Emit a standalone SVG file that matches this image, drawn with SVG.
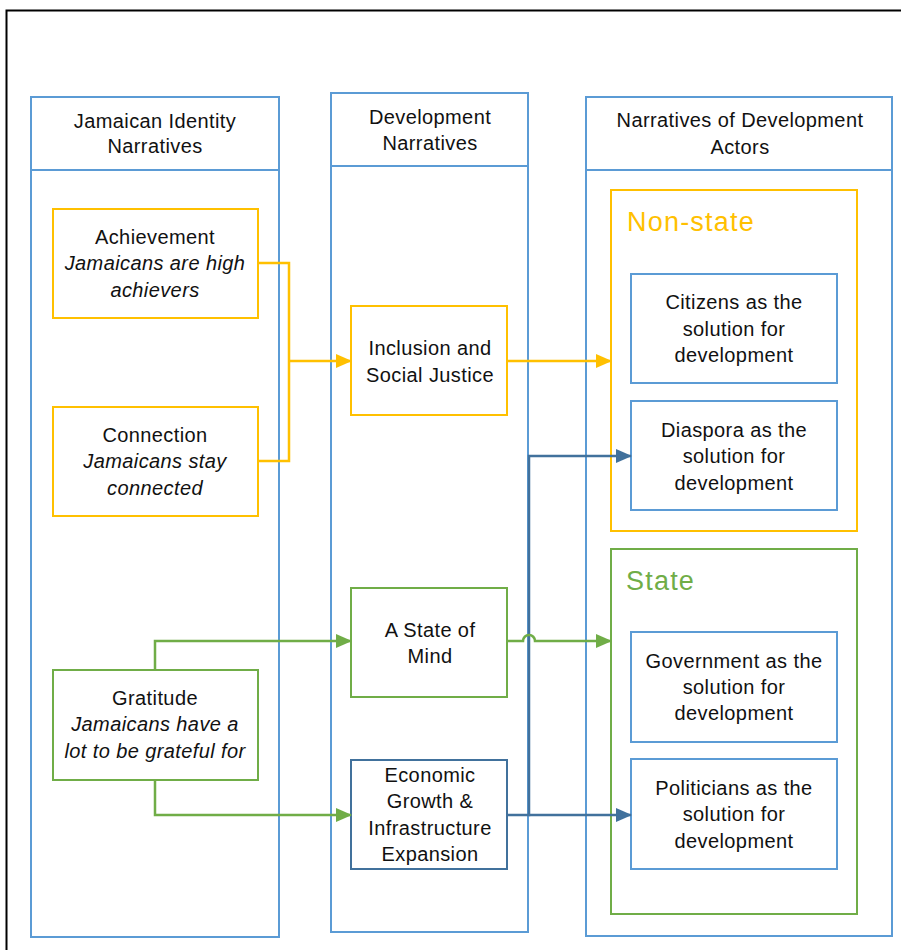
<svg xmlns="http://www.w3.org/2000/svg" width="901" height="950" viewBox="0 0 901 950">
<style>
text{font-family:"Liberation Sans","Open Sans",Arial,sans-serif;font-size:20px;letter-spacing:0.4px;fill:#111;text-anchor:middle}
.it{font-style:italic}
.col{fill:none;stroke:#5B9BD5;stroke-width:2}
.y{fill:none;stroke:#FFC000;stroke-width:2}
.g{fill:none;stroke:#70AD47;stroke-width:2}
.b{fill:none;stroke:#5B9BD5;stroke-width:2}
.db{fill:none;stroke:#41719C;stroke-width:2}
.big{font-size:27px;letter-spacing:1.2px;text-anchor:start}
</style>
<defs>
<marker id="ay" viewBox="0 0 16 14" refX="15" refY="7" markerWidth="16" markerHeight="14" markerUnits="userSpaceOnUse" orient="auto"><path d="M0,0L16,7L0,14z" fill="#FFC000"/></marker>
<marker id="ag" viewBox="0 0 16 14" refX="15" refY="7" markerWidth="16" markerHeight="14" markerUnits="userSpaceOnUse" orient="auto"><path d="M0,0L16,7L0,14z" fill="#70AD47"/></marker>
<marker id="ab" viewBox="0 0 16 14" refX="15" refY="7" markerWidth="16" markerHeight="14" markerUnits="userSpaceOnUse" orient="auto"><path d="M0,0L16,7L0,14z" fill="#41719C"/></marker>
</defs>
<rect width="901" height="950" fill="#fff"/>
<path d="M6.5,950V10.5H901" fill="none" stroke="#000" stroke-width="2"/>

<g id="col-identity">
<rect class="col" x="31" y="97" width="248" height="840"/>
<line class="col" x1="31" y1="170" x2="279" y2="170"/>
<text x="155" y="128">Jamaican Identity</text>
<text x="155" y="153">Narratives</text>
</g>
<g id="col-development">
<rect class="col" x="331" y="93" width="197" height="839"/>
<line class="col" x1="331" y1="166" x2="528" y2="166"/>
<text x="430" y="124">Development</text>
<text x="430" y="150">Narratives</text>
</g>
<g id="col-actors">
<rect class="col" x="586" y="97" width="306" height="839"/>
<line class="col" x1="586" y1="170" x2="892" y2="170"/>
<text x="740" y="127">Narratives of Development</text>
<text x="740" y="154">Actors</text>
</g>

<g id="achievement">
<rect class="y" x="53" y="209" width="205" height="109"/>
<text x="155" y="244">Achievement</text>
<text class="it" x="155" y="270">Jamaicans are high</text>
<text class="it" x="155" y="297">achievers</text>
</g>
<g id="connection">
<rect class="y" x="53" y="407" width="205" height="109"/>
<text x="155" y="442">Connection</text>
<text class="it" x="155" y="468">Jamaicans stay</text>
<text class="it" x="155" y="495">connected</text>
</g>
<g id="gratitude">
<rect class="g" x="53" y="670" width="205" height="110"/>
<text x="155" y="705">Gratitude</text>
<text class="it" x="155" y="731">Jamaicans have a</text>
<text class="it" x="155" y="758">lot to be grateful for</text>
</g>

<g id="inclusion">
<rect class="y" x="351" y="306" width="156" height="109"/>
<text x="430" y="355">Inclusion and</text>
<text x="430" y="382">Social Justice</text>
</g>
<g id="stateofmind">
<rect class="g" x="351" y="588" width="156" height="109"/>
<text x="430" y="637">A State of</text>
<text x="430" y="663">Mind</text>
</g>
<g id="economic">
<rect class="db" x="351" y="760" width="156" height="109"/>
<text x="430" y="782">Economic</text>
<text x="430" y="808">Growth &amp;</text>
<text x="430" y="835">Infrastructure</text>
<text x="430" y="861">Expansion</text>
</g>

<g id="nonstate">
<rect class="y" x="611" y="190" width="246" height="341"/>
<text class="big" x="627" y="231" style="fill:#FFC000">Non-state</text>
</g>
<g id="citizens">
<rect class="b" x="631" y="274" width="206" height="109"/>
<text x="734" y="309">Citizens as the</text>
<text x="734" y="336">solution for</text>
<text x="734" y="362">development</text>
</g>
<g id="diaspora">
<rect class="b" x="631" y="401" width="206" height="109"/>
<text x="734" y="437">Diaspora as the</text>
<text x="734" y="463">solution for</text>
<text x="734" y="490">development</text>
</g>
<g id="state">
<rect class="g" x="611" y="549" width="246" height="365"/>
<text class="big" x="626" y="590" style="fill:#70AD47">State</text>
</g>
<g id="government">
<rect class="b" x="631" y="632" width="206" height="110"/>
<text x="734" y="668">Government as the</text>
<text x="734" y="694">solution for</text>
<text x="734" y="720">development</text>
</g>
<g id="politicians">
<rect class="b" x="631" y="759" width="206" height="110"/>
<text x="734" y="795">Politicians as the</text>
<text x="734" y="821">solution for</text>
<text x="734" y="848">development</text>
</g>

<g id="connectors" fill="none" stroke-width="2.5">
<path d="M258,263H289V461H258" stroke="#FFC000"/>
<path d="M289,361H351" stroke="#FFC000" marker-end="url(#ay)"/>
<path d="M507,361H611" stroke="#FFC000" marker-end="url(#ay)"/>
<path d="M155,670V641H351" stroke="#70AD47" marker-end="url(#ag)"/>
<path d="M155,780V815H351" stroke="#70AD47" marker-end="url(#ag)"/>
<path d="M507,815H529V456H631" stroke="#41719C" marker-end="url(#ab)"/>
<path d="M529,815H631" stroke="#41719C" marker-end="url(#ab)"/>
<path d="M507,641H523A6,6 0 0 1 535,641H611" stroke="#70AD47" marker-end="url(#ag)"/>
</g>
</svg>
